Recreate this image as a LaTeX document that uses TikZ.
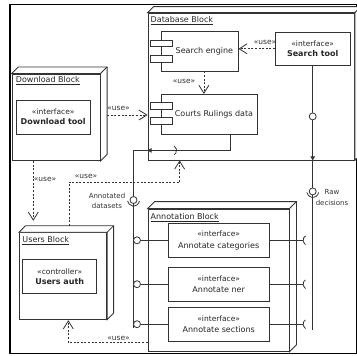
\documentclass[tikz,border=0pt]{standalone}
\usepackage{fontspec}
\setmainfont{DejaVu Sans}
\usetikzlibrary{arrows.meta,calc}
\newcommand\myblockdepth[2]{%
  \draw[ln, fill=white] (#1.north west) -- ++(#2,-#2) -- ($(#1.north east)+(#2,-#2)$) -- ($(#1.south east)+(#2,-#2)$) -- (#1.south east) -- (#1.north east) -- cycle;
  \draw[ln] (#1.north east) -- ++(#2,-#2);}
\begin{document}
\begin{tikzpicture}[x=1pt,y=-1pt,
  ln/.style={draw=black!80, line width=0.8pt},
  blk/.style={ln, fill=white, rectangle, inner sep=0pt},
  box/.style={ln, fill=white, rectangle, inner sep=0pt, align=center, text=black!85, font=\fontsize{8}{10}\selectfont},
  usearrow/.style={ln, dash pattern=on 2pt off 1.6pt, -{Straight Barb[length=8pt,width=10pt]}},
  uselbl/.style={font=\fontsize{7.5}{9}\selectfont, text=black!80, inner sep=0.5pt},
  blklbl/.style={font=\fontsize{8}{10}\selectfont, anchor=west, inner sep=0pt, text=black!85},
  portlbl/.style={font=\fontsize{7}{10.5}\selectfont, text=black!80, align=center, inner sep=0pt},
  port/.style={-{Triangle[length=4pt,width=4.5pt]}},
  ball/.style={ln, fill=white}
]
\useasboundingbox (0,0) rectangle (357,356);
% frame
\draw[black, line width=1.2pt] (10,4.7) rectangle (356.4,353.6);

% 3D blocks
\node[blk, minimum width=88, minimum height=86.7] (dlb) at (56,117.35) {};
\myblockdepth{dlb}{6.7}
\node[blk, minimum width=206.5, minimum height=147] (dbb) at (251.25,86.5) {};
\myblockdepth{dbb}{6}
\node[blk, minimum width=87.4, minimum height=86.6] (usb) at (63,276) {};
\myblockdepth{usb}{6.5}
\node[blk, minimum width=141, minimum height=142.5] (anb) at (218.5,280.25) {};
\myblockdepth{anb}{7}

% block labels
\node[blklbl] (dlbl) at (15.7,81) {\underline{Download Block}};
\node[blklbl] (dbbl) at (150.5,20.7) {\underline{Database Block}};
\node[blklbl] (usbl) at (22.3,240.7) {\underline{Users Block}};
\node[blklbl] (anbl) at (150.5,217.3) {\underline{Annotation Block}};

% inner boxes
\node[box, minimum width=73.7, minimum height=34] (dl) at (53.2,117) {{\fontsize{7.5}{10}\selectfont «interface»}\\\textbf{Download tool}};
\node[box, minimum width=76.3, minimum height=39.3] (se) at (199.9,51.4) {\hspace*{9pt}Search engine};
\node[box, minimum width=95.6, minimum height=39.7] (cr) at (209.5,114.2) {\hspace*{9pt}Courts Rulings data};
\node[box, minimum width=74.7, minimum height=33] (st) at (312.7,48.8) {{\fontsize{7.5}{10}\selectfont «interface»}\\\textbf{Search tool}};
\node[box, minimum width=74, minimum height=34] (ua) at (59.7,276.3) {{\fontsize{7.5}{10}\selectfont «controller»}\\\textbf{Users auth}};
\node[box, font=\fontsize{8}{11.5}\selectfont, minimum width=100.7, minimum height=34] (ac) at (218.7,240.3) {{\fontsize{7.5}{11.5}\selectfont «interface»}\\Annotate categories};
\node[box, font=\fontsize{8}{11.5}\selectfont, minimum width=100.7, minimum height=33.7] (an) at (218.7,284.2) {{\fontsize{7.5}{11.5}\selectfont «interface»}\\Annotate ner};
\node[box, font=\fontsize{8}{11.5}\selectfont, minimum width=100.7, minimum height=33.7] (as) at (218.7,324.2) {{\fontsize{7.5}{11.5}\selectfont «interface»}\\Annotate sections};

% component icons
\foreach \c in {se,cr}{
  \draw[ln, fill=white] ($(\c.west)+(-11.4,-11.4)$) rectangle ++(22,6.8);
  \draw[ln, fill=white] ($(\c.west)+(-11.4,3.6)$) rectangle ++(22,7);
}

% use dependencies
\draw[usearrow] (st.west) -- (st.west -| se.east);
\node[uselbl] (u1) at (265,42) {«use»};
\coordinate (sea) at ($(se.south)+(4,0)$);
\draw[usearrow] (sea) -- (sea |- cr.north);
\node[uselbl] (u2) at (184,81) {«use»};
\draw[usearrow] ($(dlb.east |- cr.west)+(6.7,0.8)$) -- ($(dbb.west |- cr.west)+(0,0.8)$);
\node[uselbl] (u3) at (118.5,108) {«use»};
\draw[usearrow] ($(dlb.south)+(-22.7,0)$) -- ($(usb.north)+(-29.7,-11.5)$);
\node[uselbl] (u4) at (45,179.3) {«use»};
\draw[usearrow] ($(usb.north)+(6,-6.5)$) |- ($(dbb.south west)+(32,21.7)$) -- ($(dbb.south west)+(32,0)$);
\node[uselbl] (u5) at (86,176.2) {«use»};
\draw[usearrow] ($(anb.south west)+(0,-9.5)$) -| ($(usb.south)+(5.3,0.5)$);
\node[uselbl] (u6) at (118.5,338) {«use»};

% search tool port line
\coordinate (sttop) at (st.south);
\coordinate (stbot) at (st.south |- dbb.south);
\draw[ln, port] (sttop) -- (stbot);
\draw[ln] (stbot) -- ($(stbot)+(0,169.3)$);
\draw[ball] ($(sttop)+(0,50.7)$) circle (3.5);
\coordinate (rawd) at ($(stbot)+(0,31)$);
\draw[ball] (rawd) circle (3.5);
\draw[ln] ($(rawd)+(10:6)$) arc[start angle=10, end angle=170, radius=6];
\node[portlbl] (rawlbl) at (332,197.5) {Raw\\decisions};

% annotation sockets
\foreach \b in {ac,an,as}{
  \draw[ln] (\b.east) -- ($(\b.east -| stbot)+(-9.7,0)$);
  \draw[ln] ($(\b.east -| stbot)+(-4.7,0)+(120:5)$) arc[start angle=120, end angle=240, radius=5];
}

% courts port and left line
\coordinate (crp) at ($(cr.south)+(20.5,0)$);
\coordinate (dbp) at ($(dbb.south west)+(0,-10)$);
\draw[ln, port] (crp) |- (dbp);
\draw[ln] (dbp) -| (133.3,328);
\draw[ln] ($(dbp)+(24,0)+(-60:5)$) arc[start angle=-60, end angle=60, radius=5];
\coordinate (annd) at (133.5,200);
\draw[ball] (annd) circle (3.5);
\draw[ln] ($(annd)+(10:6)$) arc[start angle=10, end angle=170, radius=6];
\node[portlbl] (annlbl) at (107,201) {Annotated\\datasets};

% annotation balls
\foreach \b in {ac,an,as}{
  \draw[ln] (\b.west) -- (\b.west -| 140.5,0);
  \draw[ball] (\b.west -| 137,0) circle (3.5);
}
\end{tikzpicture}
\end{document}
